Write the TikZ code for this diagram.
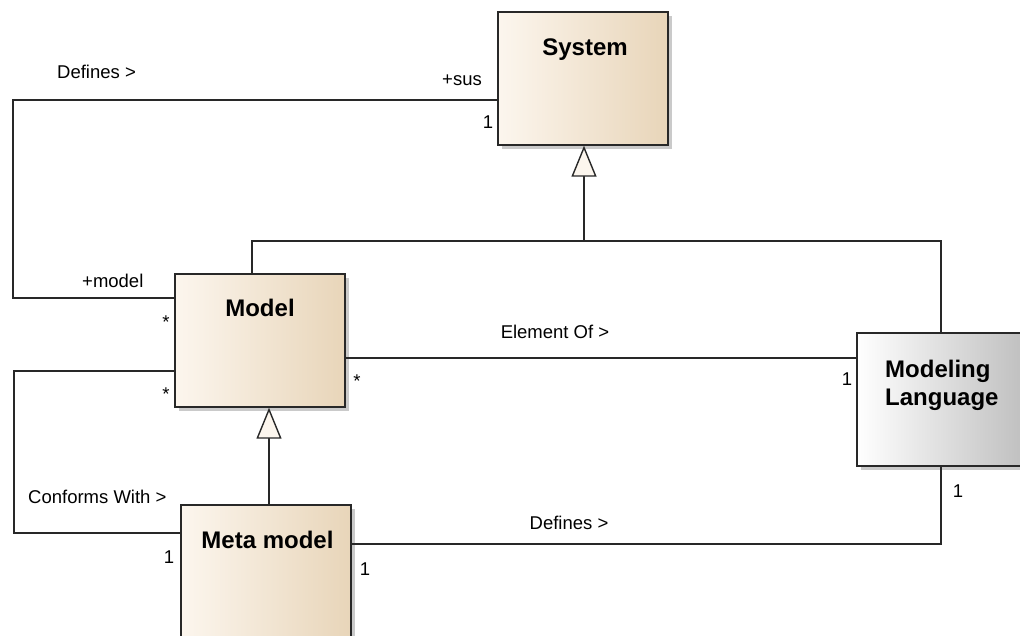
\documentclass[tikz,border=0pt]{standalone}
\usepackage{fontspec}
\setmainfont{Liberation Sans}
\usepackage{tikz}
\usetikzlibrary{positioning, shapes, arrows.meta, calc, shadows}

\definecolor{beigeL}{RGB}{252,246,238}
\definecolor{beigeR}{RGB}{232,213,185}
\definecolor{lineC}{RGB}{40,40,40}

\begin{document}
\begin{tikzpicture}[x=1pt, y=-1pt,
  classbox/.style={draw=lineC, line width=1.4pt, rectangle, inner sep=0pt,
    left color=beigeL, right color=beigeR,
    drop shadow={shadow xshift=4pt, shadow yshift=-4pt, fill=black!35, opacity=.6}},
  langbox/.style={classbox, left color=white, middle color=white, right color=black!25},
  title/.style={font=\fontsize{24}{28}\selectfont\bfseries, inner sep=0pt},
  lbl/.style={font=\fontsize{18.5}{22}\selectfont, inner sep=0pt},
  link/.style={draw=lineC, line width=1.4pt},
  gen/.style={link, -{Triangle[length=31pt, width=25pt, fill=beigeL]}}]
  \path[use as bounding box] (0,0) rectangle (1020,635);
  \clip (0,0) rectangle (1020,635);

  % classes
  \node[classbox, minimum width=170pt, minimum height=133pt] (sys) at (583,78.5) {};
  \node[classbox, minimum width=170pt, minimum height=133pt] (model) at (260,340.5) {};
  \node[classbox, minimum width=170pt, minimum height=175pt] (meta) at (266,592.5) {};
  \node[langbox, minimum width=168pt, minimum height=133pt] (ml) at (941,399.5) {};

  \node[title, anchor=base] (systitle) at (585,55) {System};
  \node[title, anchor=base] (modeltitle) at (260,316) {Model};
  \node[title, anchor=base] (metatitle) at (267.5,548) {Meta model};
  \node[title, anchor=base west] (mltitle) at (885,377) {Modeling};
  \node[title, anchor=base west] (mltitle2) at (885,405) {Language};

  % generalizations
  \coordinate (genJ) at (584,241);
  \draw[link] ([xshift=-8pt]model.north) |- (genJ) -| (ml.north);
  \draw[gen] (genJ) -- ([xshift=1pt]sys.south);
  \draw[gen] ([xshift=3pt]meta.north) -- ([xshift=9pt]model.south);

  % associations
  \draw[link] ([yshift=-21.5pt]sys.west) -| (13,298) -- ([yshift=42.5pt]model.west);
  \draw[link] ([yshift=-30.5pt]model.west) -| (14,533) -- ([yshift=59.5pt]meta.west);
  \draw[link] ([yshift=-17.5pt]model.east) -- ([yshift=41.5pt]ml.west);
  \draw[link] ([yshift=48.5pt]meta.east) -| (ml.south);

  % labels
  \node[lbl, anchor=base west] (defA) at (57,78) {Defines >};
  \node[lbl, anchor=base east] (sus) at (482,85) {+sus};
  \node[lbl, anchor=base] (sysone) at (488,128) {1};
  \node[lbl, anchor=base west] (modelrole) at (82,287) {+model};
  \node[lbl, anchor=base] (starA) at (166,328) {*};
  \node[lbl, anchor=base] (starB) at (166,400) {*};
  \node[lbl, anchor=base west] (conf) at (28,503) {Conforms With >};
  \node[lbl, anchor=base] (metaone) at (169,563) {1};
  \node[lbl, anchor=base] (elem) at (555,338) {Element Of >};
  \node[lbl, anchor=base] (starC) at (357,387) {*};
  \node[lbl, anchor=base] (mlone) at (847,385) {1};
  \node[lbl, anchor=base] (defB) at (569,529) {Defines >};
  \node[lbl, anchor=base] (metaone2) at (365,575) {1};
  \node[lbl, anchor=base] (mlone2) at (958,497) {1};
\end{tikzpicture}
\end{document}
